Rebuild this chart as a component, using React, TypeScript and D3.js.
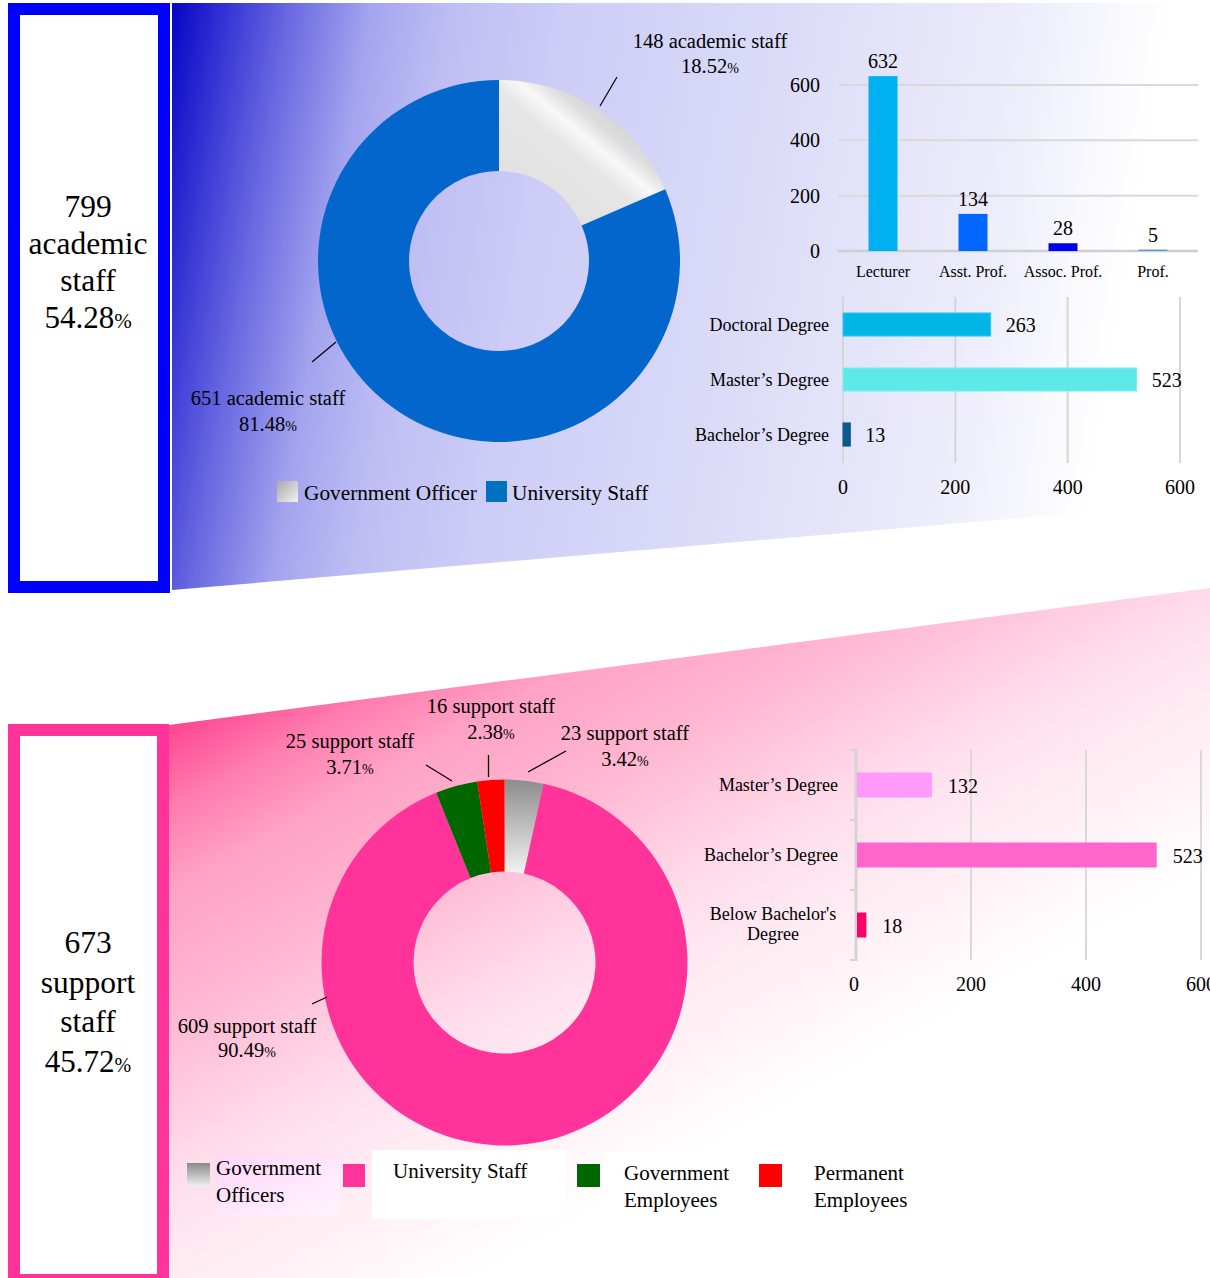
import React from 'react';
import * as d3 from 'd3';

// ---------- DATA ----------
const academicTotal = 799;
const academicTotalPct = '54.28';
const supportTotal = 673;
const supportTotalPct = '45.72';

const academicTypes = ['Government Officer', 'University Staff'];
const academicCounts = [148, 651];
const academicPct = ['18.52', '81.48'];

const positions = ['Lecturer', 'Asst. Prof.', 'Assoc. Prof.', 'Prof.'];
const positionCounts = [632, 134, 28, 5];

const academicDegrees = ['Doctoral Degree', 'Master’s Degree', 'Bachelor’s Degree'];
const academicDegreeCounts = [263, 523, 13];

const supportTypes = ['Government Officers', 'University Staff', 'Government Employees', 'Permanent Employees'];
const supportCounts = [23, 609, 25, 16];
const supportPct = ['3.42', '90.49', '3.71', '2.38'];

const supportDegrees = ['Master’s Degree', 'Bachelor’s Degree', "Below Bachelor's|Degree"];
const supportDegreeCounts = [132, 523, 18];

const axisTicks = [0, 200, 400, 600];

// ---------- STYLE ----------
const serif = '"Liberation Serif","Times New Roman",serif';
const positionColors = ['#00b0f0', '#0066ff', '#0000ee', '#5b9bd5'];
const acadDegreeColors = ['#00b6e6', '#5ee9e9', '#0b5a8c'];
const acadDegreeStroke = ['#3cc6ef', '#7ff0f0', '#0b5a8c'];
const supDegreeColors = ['#ff99fa', '#ff66cc', '#ff0066'];
const topPieFills = ['url(#grayTop)', '#0366cc'];
const botPieFills = ['url(#grayBot)', '#ff3399', '#006600', '#ff0000'];

// label layout (annotation positions)
const topPieLabelLayout = [
  { x: 710, y: 48, dy: 25, line: [[600, 106], [617, 77]] },
  { x: 268, y: 405, dy: 26, line: [[336, 342], [312, 362]] },
];
const botPieLabelLayout = [
  { x: 625, y: 740, dy: 26, line: [[528, 772], [566, 751]] },
  { x: 247, y: 1033, dy: 24, line: [[327, 997], [312, 1004]] },
  { x: 350, y: 748, dy: 26, line: [[452, 781], [426, 765]] },
  { x: 491, y: 713, dy: 26, line: [[488.5, 777], [488.5, 755]] },
];

function PctText({ x, y, num, size, pctSize, anchor = 'middle' }: any) {
  return (
    <text x={x} y={y} fontSize={size} textAnchor={anchor} fill="#000">
      {num}
      <tspan fontSize={pctSize}>%</tspan>
    </text>
  );
}

export default function App() {
  const W = 1210;
  const H = 1278;

  const pie = d3.pie<number>().sort(null).value((d) => d);
  const topArcs = pie(academicCounts);
  const botArcs = pie(supportCounts);
  const topArc = d3.arc<d3.PieArcDatum<number>>().innerRadius(90).outerRadius(181);
  const botArc = d3.arc<d3.PieArcDatum<number>>().innerRadius(91).outerRadius(183);
  const topC = [499, 261];
  const botC = [504.5, 962.5];

  const xPos = d3.scaleBand<string>().domain(positions).range([838, 1198]).paddingInner(0.678).paddingOuter(0.339);
  const yPos = d3.scaleLinear().domain([0, 600]).range([251, 85]);

  const xAD = d3.scaleLinear().domain([0, 600]).range([843, 1180]);
  const yAD = d3.scaleBand<string>().domain(academicDegrees).range([297, 462]).paddingInner(0.58).paddingOuter(0.29);

  const xSD = d3.scaleLinear().domain([0, 600]).range([856, 1201]);
  const ySD = d3.scaleBand<string>().domain(supportDegrees).range([750, 960]).paddingInner(0.643).paddingOuter(0.3215);

  const line = d3.line();

  return (
    <div>
      <style>{'body{margin:0}'}</style>
      <svg width={W} height={H} style={{ display: 'block' }} fontFamily={serif}>
        <defs>
          <linearGradient id="blueBg" gradientUnits="userSpaceOnUse" x1={172} y1={3} x2={1144} y2={168}>
            <stop offset="0" stopColor="#0505c5" />
            <stop offset="0.06" stopColor="#3838d6" />
            <stop offset="0.12" stopColor="#6a6ae2" />
            <stop offset="0.2" stopColor="#a4a4ef" />
            <stop offset="0.28" stopColor="#bebef4" />
            <stop offset="0.4" stopColor="#cdcdf7" />
            <stop offset="0.6" stopColor="#dadaf8" />
            <stop offset="0.85" stopColor="#ececfb" />
            <stop offset="1" stopColor="#ffffff" />
          </linearGradient>
          <linearGradient id="pinkBg" gradientUnits="userSpaceOnUse" x1={170} y1={725} x2={477} y2={1277}>
            <stop offset="0" stopColor="#ff4590" />
            <stop offset="0.115" stopColor="#ff7cae" />
            <stop offset="0.23" stopColor="#ffa2c5" />
            <stop offset="0.38" stopColor="#ffb4ce" />
            <stop offset="0.46" stopColor="#ffc0d8" />
            <stop offset="0.62" stopColor="#ffdcea" />
            <stop offset="0.75" stopColor="#ffeaf2" />
            <stop offset="1" stopColor="#ffffff" />
          </linearGradient>
          <linearGradient id="grayTop" x1="0.1" y1="0.85" x2="0.95" y2="-0.05">
            <stop offset="0" stopColor="#e0e0e0" />
            <stop offset="0.4" stopColor="#e6e6e6" />
            <stop offset="0.5" stopColor="#f8f8f8" />
            <stop offset="0.6" stopColor="#dcdcdc" />
            <stop offset="1" stopColor="#bdbdbd" />
          </linearGradient>
          <linearGradient id="grayBot" x1="0" y1="0" x2="0" y2="1">
            <stop offset="0" stopColor="#8c8c8c" />
            <stop offset="1" stopColor="#f2f2f2" />
          </linearGradient>
          <linearGradient id="graySwTop" x1="0" y1="0" x2="1" y2="1">
            <stop offset="0" stopColor="#a8a8a8" />
            <stop offset="1" stopColor="#f2f2f2" />
          </linearGradient>
          <linearGradient id="graySwBot" x1="0" y1="0" x2="0" y2="1">
            <stop offset="0" stopColor="#8a8a8a" />
            <stop offset="1" stopColor="#f2f2f2" />
          </linearGradient>
          <linearGradient id="legPink" x1="0" y1="0" x2="1" y2="1">
            <stop offset="0" stopColor="#ffd6fa" />
            <stop offset="1" stopColor="#fff4fd" />
          </linearGradient>
        </defs>

        <rect x={0} y={0} width={W} height={H} fill="#fff" />

        <polygon points="172,3 1210,3 1210,502 172,590" fill="url(#blueBg)" />
        <polygon points="169,725 1210,588 1210,1278 169,1278" fill="url(#pinkBg)" />

        <rect x={14} y={9} width={150} height={578} fill="#fff" stroke="#0000ff" strokeWidth={12} />
        <rect x={14} y={730} width={149} height={550} fill="#fff" stroke="#ff3399" strokeWidth={12} />
        <rect x={8} y={1274} width={161} height={4} fill="#ff3399" />

        {[String(academicTotal), 'academic', 'staff'].map((t, i) => (
          <text key={t} x={88} y={217 + i * 37} fontSize={31.5} textAnchor="middle">{t}</text>
        ))}
        <PctText x={88} y={328} num={academicTotalPct} size={31} pctSize={21} />
        {[String(supportTotal), 'support', 'staff'].map((t, i) => (
          <text key={t} x={88} y={953 + i * 39.7} fontSize={31.5} textAnchor="middle">{t}</text>
        ))}
        <PctText x={88} y={1072} num={supportTotalPct} size={31} pctSize={20} />

        <g transform={`translate(${topC[0]},${topC[1]})`}>
          {topArcs.map((a, i) => (
            <path key={i} d={topArc(a) || ''} fill={topPieFills[i]} />
          ))}
        </g>
        {topArcs.map((a, i) => {
          const L = topPieLabelLayout[i];
          return (
            <g key={i}>
              <path d={line(L.line as any) || ''} stroke="#000" strokeWidth={1.2} fill="none" />
              <text x={L.x} y={L.y} fontSize={20.5} textAnchor="middle">{`${academicCounts[i]} academic staff`}</text>
              <PctText x={L.x} y={L.y + L.dy} num={academicPct[i]} size={20.5} pctSize={14} />
            </g>
          );
        })}

        <rect x={277} y={481} width={21} height={21} fill="url(#graySwTop)" />
        <text x={304} y={500} fontSize={21.3}>{academicTypes[0]}</text>
        <rect x={486} y={481} width={21} height={21} fill="#0070c0" />
        <text x={512} y={500} fontSize={21.3}>{academicTypes[1]}</text>

        {axisTicks.map((t) => (
          <g key={t}>
            <line x1={838} x2={1198} y1={yPos(t)} y2={yPos(t)} stroke={t === 0 ? '#cfcfcf' : '#d9d9d9'} strokeWidth={t === 0 ? 2.5 : 2} />
            <text x={820} y={yPos(t) + 7} fontSize={20} textAnchor="end">{t}</text>
          </g>
        ))}
        {positions.map((p, i) => {
          const x = xPos(p) as number;
          const v = positionCounts[i];
          return (
            <g key={p}>
              <rect x={x} y={yPos(v)} width={xPos.bandwidth()} height={yPos(0) - yPos(v)} fill={positionColors[i]} />
              <text x={x + xPos.bandwidth() / 2} y={Math.min(yPos(v) - 8, 244)} fontSize={20} textAnchor="middle">{v}</text>
              <text x={x + xPos.bandwidth() / 2} y={277} fontSize={16} textAnchor="middle">{p}</text>
            </g>
          );
        })}

        {axisTicks.map((t) => (
          <g key={t}>
            <line x1={xAD(t)} x2={xAD(t)} y1={297} y2={463} stroke="#d6d6d6" strokeWidth={2} />
            <text x={xAD(t)} y={494} fontSize={20} textAnchor="middle">{t}</text>
          </g>
        ))}
        {academicDegrees.map((d, i) => {
          const y = yAD(d) as number;
          const v = academicDegreeCounts[i];
          const bw = yAD.bandwidth();
          return (
            <g key={d}>
              <rect x={xAD(0)} y={y} width={xAD(v) - xAD(0)} height={bw} fill={acadDegreeColors[i]} stroke={acadDegreeStroke[i]} strokeWidth={1} />
              <text x={xAD(v) + 15} y={y + bw / 2 + 7.5} fontSize={20}>{v}</text>
              <text x={829} y={y + bw / 2 + 6} fontSize={18} textAnchor="end">{d}</text>
            </g>
          );
        })}

        <g transform={`translate(${botC[0]},${botC[1]})`}>
          {botArcs.map((a, i) => (
            <path key={i} d={botArc(a) || ''} fill={botPieFills[i]} />
          ))}
        </g>
        {botArcs.map((a, i) => {
          const L = botPieLabelLayout[i];
          return (
            <g key={i}>
              <path d={line(L.line as any) || ''} stroke="#000" strokeWidth={1.3} fill="none" />
              <text x={L.x} y={L.y} fontSize={20.5} textAnchor="middle">{`${supportCounts[i]} support staff`}</text>
              <PctText x={L.x} y={L.y + L.dy} num={supportPct[i]} size={20.5} pctSize={14} />
            </g>
          );
        })}

        <rect x={187} y={1163} width={23} height={24} fill="url(#graySwBot)" />
        <rect x={215} y={1155} width={125} height={61} fill="url(#legPink)" />
        <text x={216} y={1175} fontSize={21}>Government</text>
        <text x={216} y={1202} fontSize={21}>Officers</text>
        <rect x={343} y={1164} width={22} height={23} fill={botPieFills[1]} />
        <rect x={372} y={1150} width={194} height={69} fill="#fff" />
        <text x={393} y={1178} fontSize={21}>{supportTypes[1]}</text>
        <rect x={577} y={1164} width={23} height={23} fill={botPieFills[2]} />
        <rect x={603} y={1152} width={150} height={68} fill="#fff" />
        <text x={624} y={1180} fontSize={21}>Government</text>
        <text x={624} y={1207} fontSize={21}>Employees</text>
        <rect x={759} y={1164} width={23} height={23} fill={botPieFills[3]} />
        <text x={814} y={1180} fontSize={21}>Permanent</text>
        <text x={814} y={1207} fontSize={21}>Employees</text>

        {axisTicks.slice(1).map((t) => (
          <line key={t} x1={xSD(t)} x2={xSD(t)} y1={750} y2={960} stroke="#d9d9d9" strokeWidth={2} />
        ))}
        <line x1={xSD(0)} x2={xSD(0)} y1={749} y2={961} stroke="#d4d4d4" strokeWidth={3} />
        {d3.range(supportDegrees.length + 1).map((k) => {
          const yy = 750 + k * ySD.step();
          return <line key={k} x1={xSD(0) - 6} x2={xSD(0)} y1={yy} y2={yy} stroke="#d4d4d4" strokeWidth={2} />;
        })}
        {axisTicks.map((t) => (
          <text key={t} x={xSD(t) - (t === 0 ? 2 : 0)} y={991} fontSize={20} textAnchor="middle">{t}</text>
        ))}
        {supportDegrees.map((d, i) => {
          const y = ySD(d) as number;
          const v = supportDegreeCounts[i];
          const bw = ySD.bandwidth();
          const lines = d.split('|');
          const yc = y + bw / 2;
          return (
            <g key={d}>
              <rect x={xSD(0) + 1} y={y} width={xSD(v) - xSD(0) - 1} height={bw} fill={supDegreeColors[i]} />
              <text x={xSD(v) + 16} y={yc + 7.5} fontSize={20}>{v}</text>
              {lines.length === 1 ? (
                <text x={838} y={yc + 6} fontSize={18} textAnchor="end">{d}</text>
              ) : (
                lines.map((ln, j) => (
                  <text key={j} x={773} y={yc - 5 + j * 20} fontSize={18} textAnchor="middle">{ln}</text>
                ))
              )}
            </g>
          );
        })}
      </svg>
    </div>
  );
}
